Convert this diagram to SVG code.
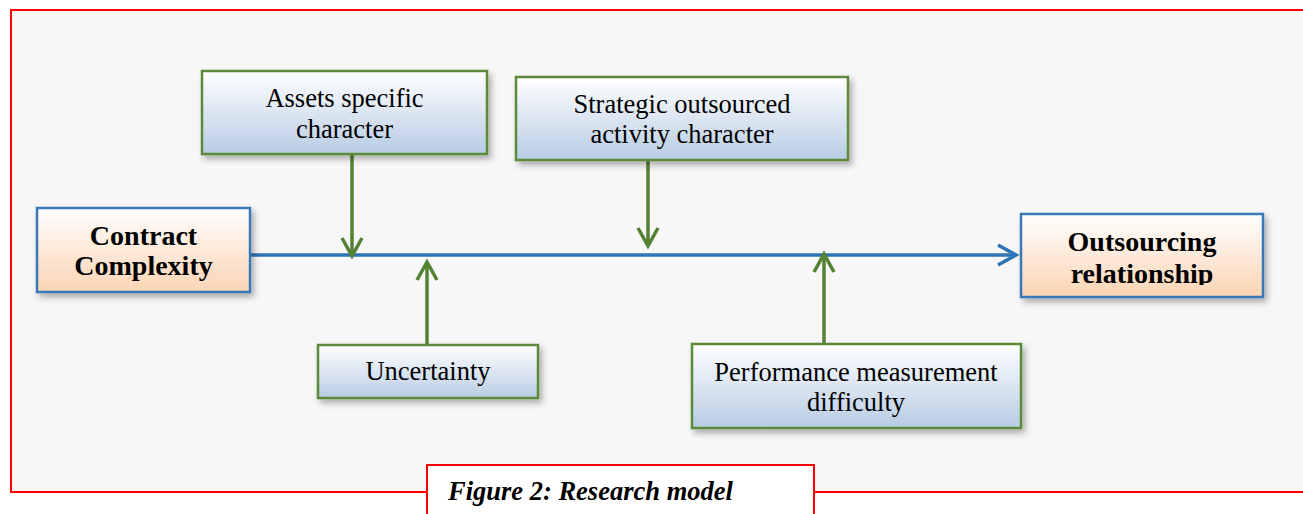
<svg xmlns="http://www.w3.org/2000/svg" width="1303" height="514" viewBox="0 0 1303 514">
<defs>
<linearGradient id="gBlue" x1="0" y1="0" x2="0" y2="1"><stop offset="0" stop-color="#ffffff"/><stop offset="1" stop-color="#b8cce4"/></linearGradient>
<linearGradient id="gPeach" x1="0" y1="0" x2="0" y2="1"><stop offset="0" stop-color="#ffffff"/><stop offset="1" stop-color="#fbd4b4"/></linearGradient>
<filter id="sh" x="-10%" y="-20%" width="125%" height="150%"><feDropShadow dx="3" dy="4" stdDeviation="3" flood-color="#000" flood-opacity="0.3"/></filter>
<clipPath id="clipOut"><rect x="1021" y="214" width="242" height="71"/></clipPath>
<style>
.green{fill:url(#gBlue);stroke:#5b8a3a;stroke-width:2.5;filter:url(#sh)}
.blue{fill:url(#gPeach);stroke:#3a78b8;stroke-width:2.5;filter:url(#sh)}
.t{font-family:"Liberation Serif","Times New Roman",serif;font-size:26.5px;fill:#000;text-anchor:middle}
.b{font-family:"Liberation Serif","Times New Roman",serif;font-size:28px;font-weight:bold;fill:#000;text-anchor:middle}
.ga{fill:none;stroke:#548235;stroke-width:3.5}
.ba{fill:none;stroke:#2e75b6;stroke-width:3.5}
</style>
</defs>
<rect x="11" y="10" width="1300" height="482" fill="#f7f7f7" stroke="#ff0000" stroke-width="2"/>
<g id="caption">
<rect x="427" y="465" width="387" height="60" fill="#ffffff" stroke="#ff0000" stroke-width="2"/>
<text x="448" y="500" font-family="Liberation Serif, Times New Roman, serif" font-size="26.5" font-weight="bold" font-style="italic">Figure 2: Research model</text>
</g>
<g id="connectors">
<line class="ba" x1="251" y1="255" x2="1015" y2="255"/>
<polyline class="ba" points="998,245 1016,255 998,265"/>
<line class="ga" x1="352" y1="155" x2="352" y2="255"/>
<polyline class="ga" points="342,238 352,256 362,238"/>
<line class="ga" x1="648" y1="161" x2="648" y2="245"/>
<polyline class="ga" points="638,228 648,246 658,228"/>
<line class="ga" x1="427" y1="344" x2="427" y2="263"/>
<polyline class="ga" points="417,280 427,262 437,280"/>
<line class="ga" x1="824" y1="344" x2="824" y2="255"/>
<polyline class="ga" points="814,272 824,254 834,272"/>
</g>
<g id="contract">
<rect class="blue" x="37" y="208" width="213" height="84"/>
<text class="b" x="143.5" y="245">Contract</text>
<text class="b" x="143.5" y="275">Complexity</text>
</g>
<g id="outsourcing">
<rect class="blue" x="1021" y="214" width="242" height="83"/>
<text class="b" x="1142" y="251">Outsourcing</text>
<text class="b" x="1142" y="283" clip-path="url(#clipOut)">relationship</text>
</g>
<g id="assets">
<rect class="green" x="202" y="71" width="285" height="83"/>
<text class="t" x="344.5" y="107">Assets specific</text>
<text class="t" x="344.5" y="138">character</text>
</g>
<g id="strategic">
<rect class="green" x="516" y="77" width="332" height="83"/>
<text class="t" x="682" y="113">Strategic outsourced</text>
<text class="t" x="682" y="143">activity character</text>
</g>
<g id="uncertainty">
<rect class="green" x="318" y="345" width="220" height="53"/>
<text class="t" x="428" y="380">Uncertainty</text>
</g>
<g id="performance">
<rect class="green" x="692" y="344" width="329" height="84"/>
<text class="t" x="856" y="381">Performance measurement</text>
<text class="t" x="856" y="411">difficulty</text>
</g>
</svg>
